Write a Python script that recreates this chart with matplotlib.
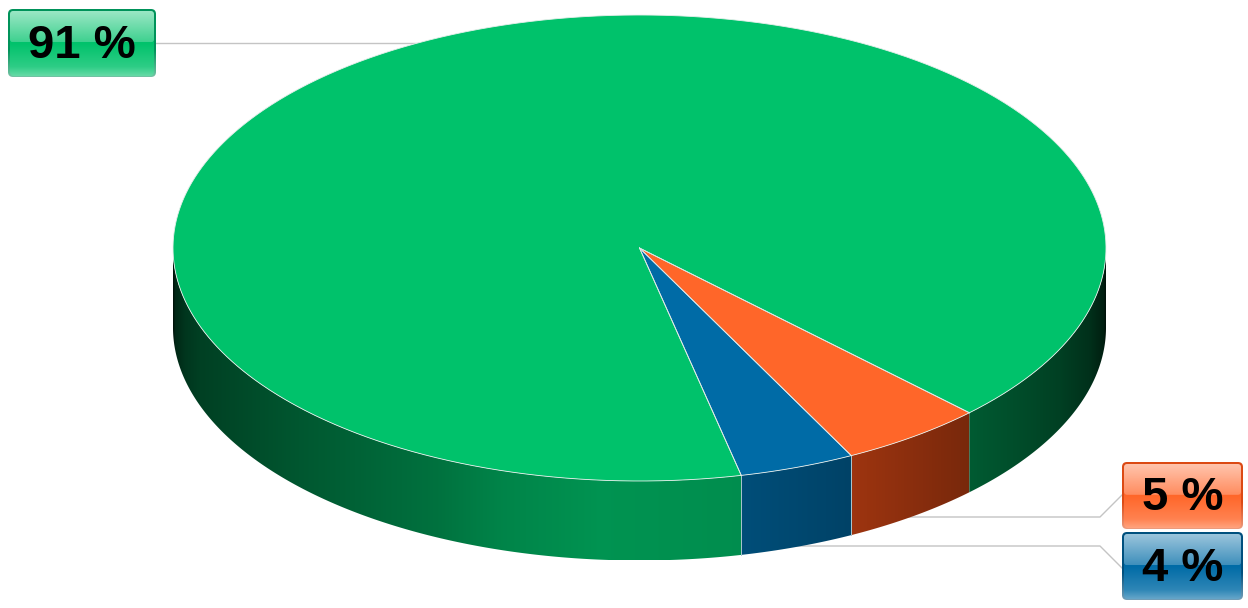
import matplotlib
matplotlib.use('Agg')
import matplotlib.pyplot as plt
import numpy as np
from matplotlib.colors import to_rgb
from matplotlib.patches import FancyBboxPatch, Polygon

plt.rcParams['font.family'] = ['Liberation Sans', 'DejaVu Sans']

# data
values = [5, 4, 91]
labels = ['5 %', '4 %', '91 %']
colors = ['#ff6629', '#006ba6', '#00c26b']
rim_colors = ['#ff5519', '#006ba6', '#00c26b']
border_colors = ['#dc4a14', '#00507e', '#00935a']

start_angle = 45
cx, cy = 639.5, 248
rx, ry = 466.5, 233
depth = 79.5

# shading of the rim, left to right
shade_x = [173, 175, 185, 200, 300, 440, 500, 600, 741, 851, 970, 1060, 1090, 1104, 1106]
shade_f = [0.10, 0.20, 0.28, 0.33, 0.45, 0.59, 0.68, 0.76, 0.73, 0.62, 0.47, 0.33, 0.25, 0.16, 0.10]

fig = plt.figure(figsize=(12.48, 6.08), dpi=100)
ax = fig.add_axes([0, 0, 1, 1])
ax.axis('off')


def arc(a, b, dy=0):
    t = np.radians(np.linspace(a, b, max(int(abs(b - a) * 3), 2)))
    return np.column_stack([cx + rx * np.cos(t), cy + ry * np.sin(t) + dy])


# leader lines, they go behind the pie
ax.plot([156, 640], [43, 43], color='#c4c4c4', lw=1, zorder=1)
ax.plot([800, 1100, 1122], [517, 517, 495], color='#c4c4c4', lw=1, zorder=1)
ax.plot([700, 1100, 1122], [546, 546, 568], color='#c4c4c4', lw=1, zorder=1)

edges = start_angle + np.cumsum([0] + values) * 3.6
xs = np.arange(cx - rx, cx + rx + 1)
f = np.interp(xs, shade_x, shade_f)

# rim
for i, col in enumerate(rim_colors):
    a, b = edges[i], edges[i + 1]
    for lo, hi in [(a, min(b, 180)), (max(a, 360), b)]:
        if hi <= lo:
            continue
        top = arc(lo, hi)
        bottom = arc(hi, lo, depth)
        poly = Polygon(np.vstack([top, bottom]), closed=True, fc='none', ec='none',
                       transform=ax.transData)
        ax.add_patch(poly)
        grad = f[None, :, None] * np.array(to_rgb(col))[None, None, :]
        im = ax.imshow(grad, extent=(xs[0], xs[-1], cy + ry + depth, cy - ry),
                       aspect='auto', zorder=2, interpolation='bilinear')
        im.set_clip_path(poly)
        if 0 < lo < 180 and i > 0:
            ax.plot([top[0, 0]] * 2, [top[0, 1], top[0, 1] + depth], color='#a9c6cf', lw=0.7, zorder=3)
        if hi < 180 and i == 0:
            ax.plot([top[-1, 0]] * 2, [top[-1, 1], top[-1, 1] + depth], color='#a9c6cf', lw=0.7, zorder=3)

# top face
for i, col in enumerate(colors):
    pts = np.vstack([[cx, cy], arc(edges[i], edges[i + 1])])
    ax.add_patch(Polygon(pts, closed=True, fc=col, ec='none', zorder=4))
    ax.plot(pts[[0, 1], 0], pts[[0, 1], 1], color='#dfe8e8', lw=0.6, zorder=5)
    ax.plot(pts[[0, -1], 0], pts[[0, -1], 1], color='#dfe8e8', lw=0.6, zorder=5)
    ax.plot(pts[1:, 0], pts[1:, 1], color='#e8efec', lw=0.6, zorder=5)

# label boxes
box_pos = [(1122, 462, 121, 67), (1122, 532, 121, 68), (8, 9, 148, 68)]
font_sizes = [34, 34, 34]


def label_box(x, y, w, h, text, col, border, size):
    base = np.array(to_rgb(col))
    dark = np.array(to_rgb(border))
    white = np.array([1, 1, 1])
    v = np.linspace(0, 1, 200)

    # border, fades out at the bottom
    mix = np.interp(v, [0, 0.6, 1], [0, 0, 0.45])[:, None]
    img = dark * (1 - mix) + white * mix
    outer = FancyBboxPatch((x, y), w, h, boxstyle='round,pad=0,rounding_size=5',
                           fc='none', ec='none', zorder=6)
    ax.add_patch(outer)
    im = ax.imshow(img[:, None, :], extent=(x, x + w, y + h, y), aspect='auto', zorder=6)
    im.set_clip_path(outer)

    # fill, lighter towards the lower edge
    mix = np.interp(v, [0, 0.5, 0.85, 1], [0, 0, 0.18, 0.42])[:, None]
    img = base * (1 - mix) + white * mix
    inner = FancyBboxPatch((x + 2, y + 2), w - 4, h - 3, boxstyle='round,pad=0,rounding_size=4',
                           fc='none', ec='none', zorder=7)
    ax.add_patch(inner)
    im = ax.imshow(img[:, None, :], extent=(x, x + w, y + h, y), aspect='auto', zorder=7)
    im.set_clip_path(inner)

    # gloss on the upper half
    gx, gy, gw, gh = x + 2, y + 2, w - 4, h * 0.46
    gloss = FancyBboxPatch((gx, gy), gw, gh, boxstyle='round,pad=0,rounding_size=3',
                           fc='none', ec='none', zorder=8)
    ax.add_patch(gloss)
    rgba = np.ones((100, 1, 4))
    rgba[:, 0, 3] = np.linspace(0.62, 0.25, 100)
    gim = ax.imshow(rgba, extent=(gx, gx + gw, gy + gh, gy), aspect='auto', zorder=8)
    gim.set_clip_path(gloss)

    ax.text(x + w / 2, y + h / 2 + 3, text, fontsize=size, fontweight='bold',
            color='black', ha='center', va='center', zorder=10)


for i in range(len(labels)):
    x, y, w, h = box_pos[i]
    label_box(x, y, w, h, labels[i], colors[i], border_colors[i], font_sizes[i])

ax.set_xlim(0, 1248)
ax.set_ylim(608, 0)
fig.savefig('out.png', dpi=100, facecolor='white')
